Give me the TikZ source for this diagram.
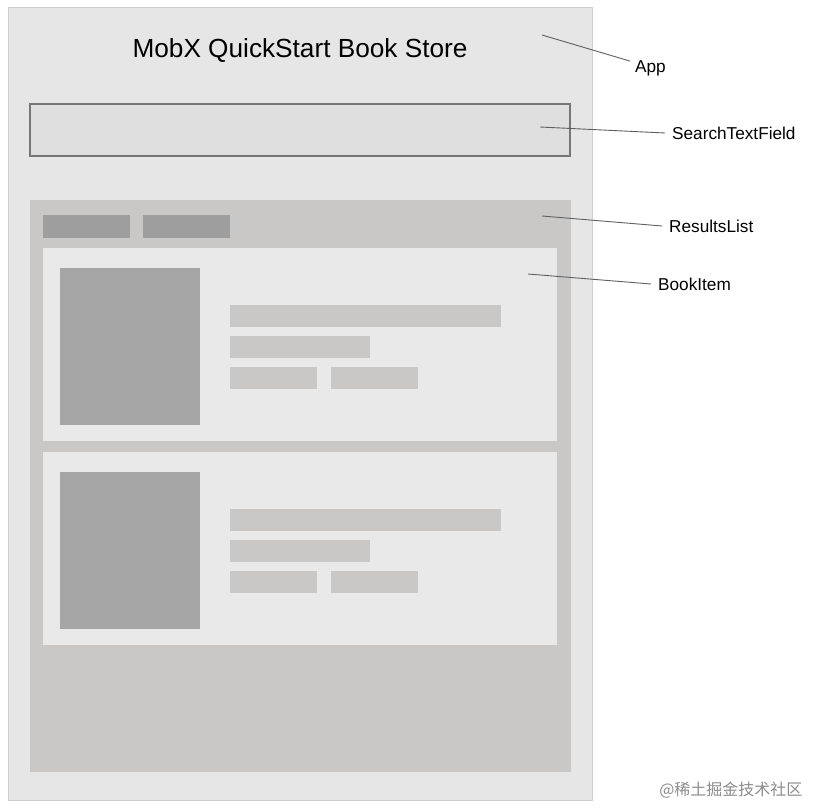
\documentclass[tikz,border=0pt]{standalone}
\usepackage{fontspec}
\setmainfont{Liberation Sans}
\newfontfamily\cjk{Noto Sans CJK SC}
\usepackage{xcolor}
\definecolor{appbg}{HTML}{E6E6E6}
\definecolor{appline}{HTML}{CFCFCF}
\definecolor{searchbg}{HTML}{DFDFDF}
\definecolor{searchline}{HTML}{767676}
\definecolor{listbg}{HTML}{C9C8C6}
\definecolor{itembg}{HTML}{E9E9E9}
\definecolor{cover}{HTML}{A6A6A6}
\definecolor{leader}{HTML}{5F5F5F}

\begin{document}
\begin{tikzpicture}[x=1pt, y=-1pt,
	bar/.style={fill=listbg},
	tab/.style={fill=cover!95!black},
	lbl/.style={anchor=west, inner sep=1pt, font=\fontsize{17.2}{20}\selectfont},
	leaderline/.style={draw=leader, line width=0.9pt}]
	
	\useasboundingbox (0,0) rectangle (813,808);
	\fill[white] (0,0) rectangle (813,808);
	
	% App
	\filldraw[fill=appbg, draw=appline, line width=1pt] (8,8) rectangle (592,800);
	\node[font=\fontsize{26.2}{31}\selectfont] (title) at (300,50) {MobX QuickStart Book Store};
	
	% SearchTextField
	\filldraw[fill=searchbg, draw=searchline, line width=2pt] (30,104) rectangle (570,156);
	
	% ResultsList
	\fill[listbg] (30,200) rectangle (571,772);
	\fill[tab] (43,215) rectangle (130,238);
	\fill[tab] (143,215) rectangle (230,238);
	
	% BookItem (x2)
	\foreach \dy in {0,204} {
		\fill[itembg] (43,248+\dy) rectangle (557,441+\dy);
		\fill[cover] (60,268+\dy) rectangle (200,425+\dy);
		\fill[bar] (230,305+\dy) rectangle (501,327+\dy);
		\fill[bar] (230,336+\dy) rectangle (370,358+\dy);
		\fill[bar] (230,367+\dy) rectangle (317,389+\dy);
		\fill[bar] (331,367+\dy) rectangle (418,389+\dy);
	}
	
	% Labels
	\coordinate (appPt) at (542,35);
	\coordinate (searchPt) at (540,127);
	\coordinate (listPt) at (542,216);
	\coordinate (itemPt) at (528,274);
	
	\node[lbl] (appLbl) at (634,68) {App};
	\node[lbl] (searchLbl) at (671,133) {SearchTextField};
	\node[lbl] (listLbl) at (668,226) {ResultsList};
	\node[lbl] (itemLbl) at (657,284) {BookItem};
	
	\draw[leaderline] (appPt) -- ([xshift=-4pt,yshift=-2pt]appLbl.north west);
	\draw[leaderline] (searchPt) -- ([xshift=-6pt]searchLbl.west);
	\draw[leaderline] (listPt) -- ([xshift=-6pt]listLbl.west);
	\draw[leaderline] (itemPt) -- ([xshift=-6pt]itemLbl.west);
	
	% Watermark
	\node[anchor=east, text=black!45, font=\cjk\fontsize{16}{19}\selectfont] (mark) at (806,790) {@稀土掘金技术社区};
	
\end{tikzpicture}
\end{document}
